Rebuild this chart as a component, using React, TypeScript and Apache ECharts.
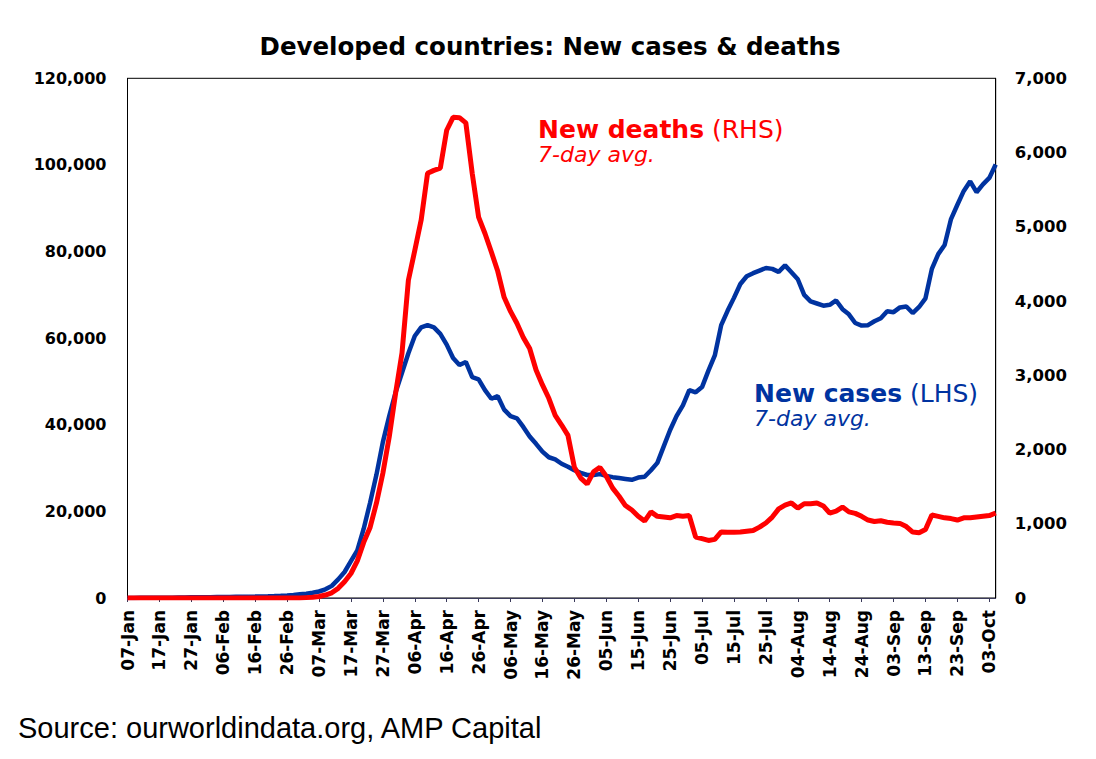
import React, { useEffect, useRef } from "react";
import * as echarts from "echarts";

// 2-day samples starting 07-Jan-2020
const startDate = "2020-01-07";
const stepDays = 2;
const monthNames = ["Jan", "Feb", "Mar", "Apr", "May", "Jun", "Jul", "Aug", "Sep", "Oct", "Nov", "Dec"];

// New cases, 7-day avg (LHS)
const newCases = [
  20, 20, 30, 30, 40, 50, 60, 80, 100, 120,
  150, 170, 190, 200, 220, 240, 250, 270, 290, 310,
  330, 360, 400, 450, 520, 600, 700, 850, 1000, 1200,
  1500, 2000, 2800, 4300, 6000, 8500, 11000, 16000, 22000, 28500,
  36000, 42000, 47500, 52000, 56500, 60500, 62500, 63000, 62500, 61000,
  58500, 55400, 53800, 54500, 51000, 50500, 48000, 46000, 46600, 43500,
  42000, 41500, 39500, 37300, 35600, 33800, 32500, 32000, 31000, 30300,
  29500, 28900, 28400, 28400, 28600, 28200, 27900, 27700, 27500, 27300,
  27800, 28000, 29500, 31200, 35000, 38800, 42000, 44500, 48000, 47500,
  48700, 52500, 56000, 63000, 66300, 69300, 72500, 74300, 75000, 75600,
  76200, 76000, 75300, 76800, 75200, 73600, 70000, 68500, 68000, 67500,
  67700, 68700, 66700, 65500, 63500, 62900, 63000, 63900, 64600, 66200,
  66000, 67100, 67300, 65800, 67200, 69200, 76000, 79400, 81500, 87500,
  90800, 94000, 96200, 93700, 95500, 97000, 100100,
];

// New deaths, 7-day avg (RHS)
const newDeaths = [
  0, 0, 0, 0, 0, 0, 0, 0, 0, 0,
  0, 0, 0, 0, 0, 0, 0, 0, 0, 0,
  0, 0, 0, 0, 0, 0, 0, 0, 5, 10,
  20, 40, 70, 130, 220, 330, 500, 750, 950, 1280,
  1680, 2170, 2760, 3300, 4280, 4680, 5090, 5720, 5760, 5790,
  6300, 6475, 6470, 6400, 5720, 5130, 4910, 4660, 4400, 4050,
  3860, 3700, 3510, 3360, 3070, 2870, 2690, 2460, 2330, 2190,
  1760, 1615, 1535, 1700, 1760, 1640, 1480, 1370, 1245, 1185,
  1100, 1036, 1160, 1100, 1090, 1080, 1110, 1100, 1110, 820,
  800, 775, 790, 890, 885, 885, 890, 900, 910, 955,
  1010, 1090, 1200, 1250, 1280, 1210, 1270, 1270, 1280, 1240,
  1144, 1170, 1225, 1160, 1140, 1100, 1050, 1030, 1040, 1020,
  1010, 1005, 962, 888, 880, 922, 1117, 1100, 1080, 1070,
  1050, 1080, 1080, 1090, 1100, 1110, 1145,
];

const leftTicks = { min: 0, max: 120000, interval: 20000 };
const rightTicks = { min: 0, max: 7000, interval: 1000 };

const categories: string[] = newCases.map((_, i) => {
  const d = new Date(startDate + "T00:00:00Z");
  d.setUTCDate(d.getUTCDate() + i * stepDays);
  const dd = String(d.getUTCDate()).padStart(2, "0");
  return dd + "-" + monthNames[d.getUTCMonth()];
});

const BLUE = "#0033A0";
const RED = "#FF0000";
const FONT = "DejaVu Sans";

const fmt = (v: number) => v.toLocaleString("en-US");

export default function App() {
  const ref = useRef<HTMLDivElement>(null);
  useEffect(() => {
    if (!ref.current) return;
    const chart = echarts.init(ref.current, null, { renderer: "svg" });
    chart.setOption({
      animation: false,
      backgroundColor: "#fff",
      grid: {
        left: 127.5,
        right: 100.3,
        top: 78.3,
        bottom: 161,
        show: true,
        borderColor: "#000",
        borderWidth: 1,
        backgroundColor: "transparent",
      },
      xAxis: {
        type: "category",
        data: categories,
        boundaryGap: false,
        axisLine: { show: true, lineStyle: { color: "#3a3a5a", width: 1 } },
        axisTick: { show: true, interval: 4, length: 4, inside: false, lineStyle: { color: "#3a3a5a" } },
        axisLabel: {
          interval: 4,
          rotate: 90,
          margin: 12,
          fontFamily: FONT,
          fontWeight: "bold",
          fontSize: 17,
          color: "#000",
        },
        splitLine: { show: false },
      },
      yAxis: [
        {
          type: "value",
          position: "left",
          min: leftTicks.min,
          max: leftTicks.max,
          interval: leftTicks.interval,
          axisLine: { show: true, lineStyle: { color: "#000" } },
          axisTick: { show: false },
          splitLine: { show: false },
          axisLabel: {
            formatter: fmt,
            margin: 21,
            fontFamily: FONT,
            fontWeight: "bold",
            fontSize: 16,
            color: "#000",
          },
        },
        {
          type: "value",
          position: "right",
          min: rightTicks.min,
          max: rightTicks.max,
          interval: rightTicks.interval,
          axisLine: { show: true, lineStyle: { color: "#000" } },
          axisTick: { show: false },
          splitLine: { show: false },
          axisLabel: {
            formatter: fmt,
            margin: 19,
            fontFamily: FONT,
            fontWeight: "bold",
            fontSize: 16.5,
            color: "#000",
          },
        },
      ],
      series: [
        {
          name: "New cases",
          type: "line",
          yAxisIndex: 0,
          data: newCases,
          symbol: "none",
          showSymbol: false,
          lineStyle: { color: BLUE, width: 4.5 },
          itemStyle: { color: BLUE },
          z: 2,
        },
        {
          name: "New deaths",
          type: "line",
          yAxisIndex: 1,
          data: newDeaths,
          symbol: "none",
          showSymbol: false,
          lineStyle: { color: RED, width: 5 },
          itemStyle: { color: RED },
          z: 3,
        },
      ],
      graphic: [
        {
          type: "text",
          x: 550,
          y: 46.3,
          style: {
            text: "Developed countries: New cases & deaths",
            fill: "#000",
            fontFamily: FONT,
            fontWeight: "bold",
            fontSize: 24.5,
            textAlign: "center",
            textVerticalAlign: "middle",
          },
        },
        {
          type: "text",
          x: 538,
          y: 129,
          style: {
            text: "{b|New deaths} {r|(RHS)}",
            fill: RED,
            fontFamily: FONT,
            fontSize: 25,
            textAlign: "left",
            textVerticalAlign: "middle",
            rich: {
              b: { fill: RED, fontFamily: FONT, fontWeight: "bold", fontSize: 25 },
              r: { fill: RED, fontFamily: FONT, fontWeight: "normal", fontSize: 25 },
            },
          },
        },
        {
          type: "text",
          x: 538,
          y: 154.5,
          style: {
            text: "7-day avg.",
            fill: RED,
            fontFamily: FONT,
            fontStyle: "italic",
            fontSize: 22,
            textAlign: "left",
            textVerticalAlign: "middle",
          },
        },
        {
          type: "text",
          x: 754,
          y: 393,
          style: {
            text: "{b|New cases} {r|(LHS)}",
            fill: BLUE,
            fontFamily: FONT,
            fontSize: 25,
            textAlign: "left",
            textVerticalAlign: "middle",
            rich: {
              b: { fill: BLUE, fontFamily: FONT, fontWeight: "bold", fontSize: 25 },
              r: { fill: BLUE, fontFamily: FONT, fontWeight: "normal", fontSize: 25 },
            },
          },
        },
        {
          type: "text",
          x: 754,
          y: 418,
          style: {
            text: "7-day avg.",
            fill: BLUE,
            fontFamily: FONT,
            fontStyle: "italic",
            fontSize: 22,
            textAlign: "left",
            textVerticalAlign: "middle",
          },
        },
        {
          type: "text",
          x: 18,
          y: 728,
          style: {
            text: "Source: ourworldindata.org, AMP Capital",
            fill: "#000",
            fontFamily: "Liberation Sans, Arial, sans-serif",
            fontSize: 29,
            textAlign: "left",
            textVerticalAlign: "middle",
          },
        },
      ],
    });
    return () => chart.dispose();
  }, []);
  return (
    <div
      ref={ref}
      style={{ position: "fixed", left: 0, top: 0, width: 1096, height: 759, background: "#fff" }}
    />
  );
}
